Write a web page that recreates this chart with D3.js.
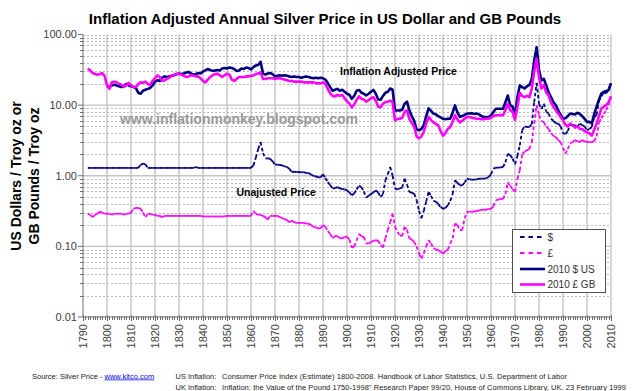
<!DOCTYPE html>
<html><head><meta charset="utf-8">
<script src="https://cdn.jsdelivr.net/npm/d3@7"></script>
<style>
body{margin:0;background:#fff}
svg{display:block}
text{font-family:"Liberation Sans",Arial,sans-serif}
</style>
</head><body>
<svg id="c" width="640" height="391"></svg>
<script>
// ---------- DATA (annual values) ----------
const usNominalStart = 1792;
const usNominal = [
  1.29,1.29,1.29,1.29,1.29,1.29,1.29,1.29,
  1.29,1.29,1.29,1.29,1.29,1.29,1.29,1.29,1.29,1.29,
  1.29,1.29,1.29,1.29,1.42,1.49,1.45,1.29,1.29,1.29,
  1.29,1.29,1.29,1.29,1.29,1.29,1.29,1.29,1.29,1.29,
  1.29,1.29,1.29,1.29,1.29,1.29,1.29,1.33,1.29,1.29,
  1.29,1.29,1.29,1.29,1.29,1.29,1.29,1.29,1.29,1.29,
  1.29,1.29,1.29,1.29,1.29,1.29,1.29,1.29,1.29,1.29,
  1.29,1.4,1.8,2.4,3.0,2.1,1.76,1.76,1.74,1.6,
  1.44,1.44,1.42,1.40,1.36,1.33,1.25,1.13,1.14,1.13,
  1.13,1.12,1.12,1.10,1.09,1.04,1.0,0.98,0.95,0.95,
  1.05,0.93,0.81,0.74,0.66,0.67,0.69,0.66,0.65,0.64,
  0.62,0.58,0.53,0.56,0.64,0.73,0.69,0.60,0.49,0.52,
  0.55,0.58,0.62,0.58,0.50,0.55,0.86,1.05,1.33,1.0,
  0.66,0.64,0.66,0.68,0.91,0.75,0.59,0.57,0.56,0.45,
  0.32,0.25,0.32,0.43,0.59,0.52,0.44,0.43,0.40,0.36,
  0.34,0.35,0.38,0.44,0.55,0.86,0.80,0.73,0.73,0.80,
  0.91,0.89,0.88,0.88,0.89,0.91,0.91,0.91,0.92,0.96,
  1.05,1.26,1.30,1.30,1.31,1.33,1.55,2.05,1.95,1.75,
  1.45,1.9,2.7,4.4,5.0,4.9,4.9,5.4,11,20.6,
  10.5,8.8,10.5,8.1,7.6,6.4,6.0,5.5,5.5,5.0,
  4.0,3.9,4.3,5.3,5.2,5.2,4.9,5.5,5.2,5.0,
  4.4,4.6,4.9,6.7,7.3,11.5,13.4,15.0,14.7,16.4,
  20.4
];
const ukNominalStart = 1792;
const ukNominal = [
  0.29,0.28,0.26,0.28,0.29,0.31,0.30,0.29,
  0.29,0.29,0.28,0.29,0.29,0.29,0.29,0.28,0.29,0.29,
  0.30,0.34,0.35,0.35,0.34,0.30,0.26,0.29,0.29,0.28,
  0.28,0.27,0.27,0.26,0.27,0.27,0.27,0.27,0.27,0.27,
  0.27,0.27,0.27,0.27,0.27,0.27,0.27,0.27,0.27,0.27,
  0.265,0.265,0.265,0.265,0.265,0.265,0.265,0.265,0.265,0.265,
  0.27,0.27,0.27,0.27,0.27,0.27,0.27,0.27,0.27,0.27,
  0.27,0.32,0.29,0.28,0.28,0.27,0.26,0.24,0.27,0.27,
  0.27,0.27,0.26,0.25,0.245,0.235,0.22,0.23,0.22,0.215,
  0.215,0.215,0.215,0.21,0.21,0.20,0.19,0.185,0.18,0.18,
  0.20,0.19,0.165,0.15,0.13,0.14,0.14,0.13,0.13,0.135,
  0.137,0.125,0.096,0.10,0.12,0.15,0.14,0.135,0.11,0.11,
  0.115,0.12,0.123,0.12,0.105,0.096,0.13,0.17,0.22,0.29,
  0.19,0.16,0.144,0.14,0.19,0.17,0.13,0.125,0.115,0.10,
  0.079,0.067,0.08,0.10,0.123,0.11,0.095,0.09,0.089,0.085,
  0.079,0.085,0.09,0.11,0.13,0.21,0.20,0.17,0.17,0.25,
  0.31,0.31,0.31,0.31,0.32,0.32,0.33,0.33,0.33,0.34,
  0.34,0.37,0.45,0.46,0.47,0.47,0.55,0.81,0.72,0.65,
  0.59,0.9,1.2,2.0,2.2,2.3,2.4,3.0,5.5,10,
  7.2,6.0,5.7,5.0,4.6,4.0,3.7,3.5,3.2,3.0,
  2.5,2.05,2.4,2.9,3.0,3.2,3.1,3.0,3.2,3.1,
  3.0,3.0,3.0,3.1,3.6,5.7,6.5,7.5,8.5,10.0,
  13.3
];
const usRealStart = 1800;
const usReal = [
  18.5,18.0,19.0,19.5,19.0,18.5,18.0,18.5,20.0,19.0,
  18.5,18.0,17.5,15.0,14.5,16.0,16.5,17.0,17.5,19.0,
  21.5,22.5,22.0,24.5,25.5,25.0,25.5,26.0,26.5,27.5,
  28.0,27.5,28.0,29.0,29.5,28.0,27.0,27.5,28.5,28.0,
  30.0,31.0,32.5,31.5,30.5,31.0,31.5,31.0,33.0,33.5,
  33.0,34.0,33.5,32.5,30.5,31.0,33.0,32.5,34.0,33.5,
  32.0,34.5,36.5,37.0,41.0,28.0,27.0,28.0,28.5,27.5,
  25.5,26.0,26.5,26.0,26.5,26.0,25.5,25.0,25.5,25.0,
  25.0,24.5,25.0,25.5,25.0,24.5,24.0,24.5,24.0,24.5,
  24.0,23.0,20.5,18.0,16.0,16.5,17.0,16.0,16.5,15.5,
  14.5,14.0,12.3,13.5,16.0,16.4,15.0,14.5,13.7,14.5,
  15.5,16.4,14.5,12.0,11.9,13.5,15.0,15.5,17.2,16.5,
  8.4,8.4,8.4,8.6,10.5,11.2,8.4,7.0,6.0,4.5,
  4.4,4.6,5.2,7.0,9.0,8.3,7.6,7.4,7.0,6.7,
  6.4,6.3,6.4,6.4,7.8,9.9,7.9,6.8,7.0,7.3,
  7.6,7.6,7.7,7.5,7.6,7.4,7.0,6.8,6.8,6.8,
  7.2,8.0,8.9,8.9,8.9,8.9,11.0,13.7,10.0,9.5,
  7.2,13.0,19.0,18.0,17.2,18.5,19.3,23.5,43,66,
  32,22.4,23.6,19,15.2,13,11,10,8.4,7.3,
  6.4,6.5,7.0,7.6,7.5,7.4,7.8,7.5,7.0,6.4,
  5.8,5.8,5.5,7.5,9.5,12.0,14.6,15.5,15.8,16.4,
  20.4
];
const ukRealStart = 1792;
const ukReal = [
  33,31,28.5,27.5,27,27.5,28.5,26,
  19,17,21,21.5,21,20,19.5,18.2,19,20.6,
  19,18.2,18,19.8,21,20.7,21.5,19.8,19.5,22,
  24,26.3,25,22,22.5,23.5,24.5,26.3,27,27.5,
  27.9,27,26,25.1,25.5,26.5,26.3,25.5,25.5,24,
  22,21,23,25,26.5,27.5,27.9,26.5,25,26.5,
  27.9,27,23,22,23.5,25,25,25,25.5,25.5,
  26,26.3,27.5,28,29,23.5,23.5,24,24,24,
  23.5,24,24,23.5,23,22.5,22,22,21.5,21.5,
  21.5,21.5,21,21,21,21,21,20.5,20.3,20.3,
  21,20,17,14.7,13.5,13.3,14,13.5,14,12.5,
  11.3,10.5,9.3,10.2,11.9,13.3,12.3,12,11.2,11.8,
  12.5,13,11.5,9.5,9.3,10.5,11,11.2,11.6,11,
  6.1,6.4,6.4,6.6,8,8.4,6.4,5.6,5,3.6,
  3.4,3.6,4.2,5.5,6.8,6.2,5.7,5.4,5.2,4.3,
  3.7,4,4.6,4.9,5.8,7.2,6.3,5.7,6,6.4,
  6.8,6.8,6.6,6.5,6.4,6.4,6.3,6.3,6.4,6.4,
  6.6,7,7.2,7.2,7.2,7.2,8.5,10.5,8.5,8,
  6.2,9.3,15,13.5,13,13.5,13,17.2,30,45,
  25,17.2,19.3,15,13.7,11,9.5,8.5,7.6,6.8,
  6.1,5.3,5.0,5.5,5.2,4.8,5.0,4.6,4.6,4.3,
  4.1,4.0,3.7,4.5,5.5,7.0,9.0,9.5,10.0,11.0,
  13.3
];
const xTickYears = d3.range(1790, 2011, 10);
const yTickValues = [0.01, 0.1, 1, 10, 100];
const yTickLabels = ["0.01", "0.10", "1.00", "10.00", "100.00"];
const legendLabels = ["$", "\u00a3", "2010 $ US", "2010 \u00a3 GB"];
const seriesColors = ["#000080", "#ff00ff", "#000080", "#ff00ff"];

// ---------- CHART ----------
const svg = d3.select('#c');
const x = d3.scaleLinear().domain([1790, 2010]).range([83, 611]);
const y = d3.scaleLog().domain([0.01, 100]).range([317, 34.5]);
const X0 = x.range()[0], X1 = x.range()[1];

// minor horizontal gridlines (dotted)
const minorVals = [];
[0.01, 0.1, 1, 10].forEach(d => { for (let k = 2; k <= 9; k++) minorVals.push(d * k); });
minorVals.push(100);
svg.append('g').selectAll('line').data(minorVals).join('line')
  .attr('x1', X0).attr('x2', X1)
  .attr('y1', d => Math.round(y(d)) + 0.5).attr('y2', d => Math.round(y(d)) + 0.5)
  .attr('stroke', '#b8b8b8').attr('stroke-width', 1).attr('stroke-dasharray', '2,2');

// vertical gridlines
svg.append('g').selectAll('line').data(xTickYears.slice(1)).join('line')
  .attr('x1', d => x(d)).attr('x2', d => x(d))
  .attr('y1', y(100)).attr('y2', y(0.01))
  .attr('stroke', '#c4c4c4').attr('stroke-width', 1.4);

// major horizontal gridlines
svg.append('g').selectAll('line').data([0.1, 1, 10]).join('line')
  .attr('x1', X0).attr('x2', X1)
  .attr('y1', d => y(d)).attr('y2', d => y(d))
  .attr('stroke', '#c4c4c4').attr('stroke-width', 1.4);

// axes
const axisColor = '#707070';
svg.append('line').attr('x1', X0).attr('x2', X0).attr('y1', y(100)).attr('y2', y(0.01))
  .attr('stroke', axisColor).attr('stroke-width', 1);
svg.append('line').attr('x1', X0).attr('x2', X1).attr('y1', y(0.01)).attr('y2', y(0.01))
  .attr('stroke', axisColor).attr('stroke-width', 1);
// y ticks
svg.append('g').selectAll('line').data(yTickValues).join('line')
  .attr('x1', X0 - 5).attr('x2', X0).attr('y1', d => y(d)).attr('y2', d => y(d))
  .attr('stroke', axisColor);
svg.append('g').selectAll('line').data(minorVals.filter(v => v < 100)).join('line')
  .attr('x1', X0 - 3).attr('x2', X0).attr('y1', d => Math.round(y(d)) + 0.5).attr('y2', d => Math.round(y(d)) + 0.5)
  .attr('stroke', axisColor);
// x ticks (every year, longer at decades)
svg.append('g').selectAll('line').data(d3.range(1790, 2011)).join('line')
  .attr('x1', d => Math.round(x(d)) + 0.5).attr('x2', d => Math.round(x(d)) + 0.5)
  .attr('y1', d => y(0.01) - (d % 10 === 0 ? 2 : 1))
  .attr('y2', d => y(0.01) + (d % 10 === 0 ? 4 : 3))
  .attr('stroke', axisColor).attr('stroke-width', 1);

// y tick labels
svg.append('g').selectAll('text').data(yTickValues).join('text')
  .attr('x', X0 - 6).attr('y', d => y(d)).attr('dy', '0.36em')
  .attr('text-anchor', 'end').attr('font-size', 11).attr('fill', '#404040')
  .text((d, i) => yTickLabels[i]);

// x tick labels (rotated)
svg.append('g').selectAll('text').data(xTickYears).join('text')
  .attr('transform', d => `translate(${x(d) + 4},${y(0.01) + 7}) rotate(-90)`)
  .attr('text-anchor', 'end').attr('font-size', 11).attr('fill', '#404040')
  .text(d => d);

// series
function dashedSeries(start, vals, color) {
  const segs = vals.slice(0, -1).map((v, i) => [start + i, v, start + i + 1, vals[i + 1]]);
  svg.append('g').selectAll('line').data(segs).join('line')
    .attr('x1', d => x(d[0])).attr('y1', d => y(d[1]))
    .attr('x2', d => x(d[2])).attr('y2', d => y(d[3]))
    .attr('stroke', color).attr('stroke-width', 1.8)
    .attr('stroke-dasharray', '3.5,2.5').attr('fill', 'none');
}
function solidSeries(start, vals, color) {
  const line = d3.line().x((d, i) => x(start + i)).y(d => y(d)).curve(d3.curveLinear);
  svg.append('path').datum(vals).attr('d', line)
    .attr('fill', 'none').attr('stroke', color).attr('stroke-width', 2.6)
    .attr('stroke-linejoin', 'round');
}
dashedSeries(usNominalStart, usNominal, seriesColors[0]);
dashedSeries(ukNominalStart, ukNominal, seriesColors[1]);
solidSeries(usRealStart, usReal, seriesColors[2]);
solidSeries(ukRealStart, ukReal, seriesColors[3]);

// annotations
svg.append('text').attr('x', 120).attr('y', 124).attr('font-size', 14).attr('font-weight', 'bold')
  .attr('fill', '#9a9a9a').text('www.inflationmonkey.blogspot.com');
svg.append('text').attr('x', 340).attr('y', 75).attr('font-size', 10.5).attr('font-weight', 'bold')
  .attr('fill', '#000').text('Inflation Adjusted Price');
svg.append('text').attr('x', 236.5).attr('y', 195.5).attr('font-size', 10.5).attr('font-weight', 'bold')
  .attr('fill', '#000').text('Unajusted Price');

// legend
const lg = svg.append('g');
lg.append('rect').attr('x', 512.5).attr('y', 229.5).attr('width', 93).attr('height', 63)
  .attr('fill', '#fff').attr('stroke', '#505050').attr('stroke-width', 1);
const rowY = [237, 253, 269, 284.5];
legendLabels.forEach((lab, i) => {
  lg.append('line').attr('x1', 520).attr('x2', 545).attr('y1', rowY[i]).attr('y2', rowY[i])
    .attr('stroke', seriesColors[i]).attr('stroke-width', i < 2 ? 1.8 : 2.6)
    .attr('stroke-dasharray', i < 2 ? '4.5,4' : null);
  lg.append('text').attr('x', 547.5).attr('y', rowY[i]).attr('dy', '0.36em')
    .attr('font-size', 10).attr('fill', '#333').text(lab);
});

// title
svg.append('text').attr('x', 325).attr('y', 24).attr('text-anchor', 'middle')
  .attr('font-size', 15).attr('font-weight', 'bold').attr('fill', '#000')
  .text('Inflation Adjusted Annual Silver Price in US Dollar and GB Pounds');

// y axis title
svg.append('text').attr('transform', 'translate(21,176) rotate(-90)').attr('text-anchor', 'middle')
  .attr('font-size', 14).attr('font-weight', 'bold').text('US Dollars / Troy oz  or');
svg.append('text').attr('transform', 'translate(39,176) rotate(-90)').attr('text-anchor', 'middle')
  .attr('font-size', 14).attr('font-weight', 'bold').text('GB Pounds / Troy oz');

// footnotes
const fn = svg.append('g').attr('font-size', 7.5).attr('fill', '#222');
const t1 = fn.append('text').attr('x', 32).attr('y', 378.5);
t1.append('tspan').text('Source:  Silver Price  - ');
t1.append('tspan').attr('fill', '#0000ee').attr('text-decoration', 'underline').text('www.kitco.com');
fn.append('text').attr('x', 175.5).attr('y', 378.5).text('US Inflation:');
fn.append('text').attr('x', 222).attr('y', 378.5)
  .attr('textLength', 345).attr('lengthAdjust', 'spacing')
  .text('Consumer Price Index (Estimate) 1800-2008. Handbook of Labor Statistics, U.S. Department of Labor');
fn.append('text').attr('x', 175.5).attr('y', 390).text('UK Inflation:');
fn.append('text').attr('x', 222).attr('y', 390)
  .attr('textLength', 404).attr('lengthAdjust', 'spacing')
  .text('Inflation: the Value of the Pound 1750-1998" Research Paper 99/20, House of Commons Library, UK. 23 February 1999');
</script>
</body></html>
